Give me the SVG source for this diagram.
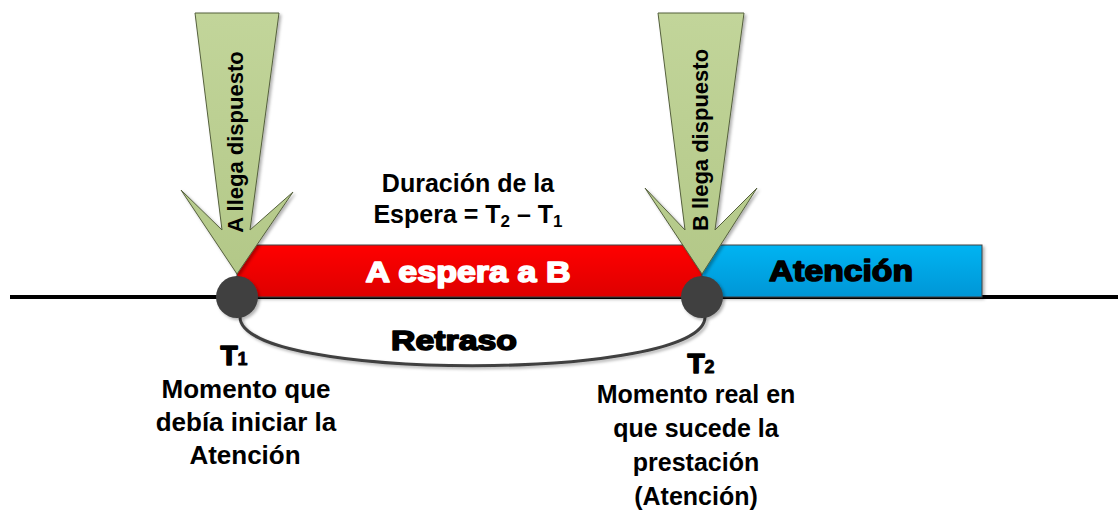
<svg xmlns="http://www.w3.org/2000/svg" width="1118" height="515" viewBox="0 0 1118 515">
<defs>
<linearGradient id="gRed" x1="0" y1="0" x2="0" y2="1"><stop offset="0" stop-color="#ff0000"/><stop offset="1" stop-color="#de0000"/></linearGradient>
<linearGradient id="gBlue" x1="0" y1="0" x2="0" y2="1"><stop offset="0" stop-color="#00b4f2"/><stop offset="1" stop-color="#0096d6"/></linearGradient>
<linearGradient id="gArrow" x1="0" y1="0" x2="0" y2="1"><stop offset="0" stop-color="#c2d59a"/><stop offset="1" stop-color="#b3c888"/></linearGradient>
<filter id="sh" x="-10%" y="-10%" width="130%" height="130%"><feDropShadow dx="2" dy="2" stdDeviation="1.5" flood-color="#000" flood-opacity="0.3"/></filter>
</defs>
<style>
.bar{stroke:#404040;stroke-width:1;filter:url(#sh)}
.arrow{fill:url(#gArrow);stroke:#55603d;stroke-width:1;filter:url(#sh)}
.dot{fill:#404040;filter:url(#sh)}
.heavy{font-family:"Liberation Sans",Arial,sans-serif;font-weight:900;stroke-width:1.6;stroke-linejoin:round}
.lbl{font-family:"Liberation Sans",Arial,sans-serif;font-weight:bold;fill:#000;text-anchor:middle}
.vert{font-family:"Liberation Sans",Arial,sans-serif;font-weight:bold;font-size:22px;fill:#000;text-anchor:middle}
</style>
<g id="connectors">
<line x1="10" y1="297" x2="1118" y2="297" stroke="#000" stroke-width="4"/>
</g>
<g id="bar-espera">
<rect class="bar" x="237" y="245" width="465" height="52" fill="url(#gRed)"/>
<text class="heavy" x="468" y="282" font-size="30" fill="#fff" stroke="#fff" text-anchor="middle" textLength="205" lengthAdjust="spacingAndGlyphs">A espera a B</text>
</g>
<g id="bar-atencion">
<rect class="bar" x="702" y="245" width="280" height="52" fill="url(#gBlue)"/>
<text class="heavy" x="841" y="281" font-size="30" fill="#000" stroke="#000" text-anchor="middle" textLength="144" lengthAdjust="spacingAndGlyphs">Atención</text>
</g>
<g id="retraso">
<path d="M240,317 C240,382 705,382 705,317" fill="none" stroke="#404040" stroke-width="3" filter="url(#sh)"/>
<text class="heavy" x="454" y="350" font-size="28" fill="#000" stroke="#000" text-anchor="middle" textLength="126" lengthAdjust="spacingAndGlyphs">Retraso</text>
</g>
<g id="t1">
<circle class="dot" cx="237" cy="297" r="21"/>
<text class="heavy" x="234" y="365" font-size="28" fill="#000" stroke="#000" text-anchor="middle">T<tspan font-size="18" stroke-width="0.8">1</tspan></text>
<text class="lbl" font-size="26" x="246" y="398">Momento que</text>
<text class="lbl" font-size="26" x="246" y="431">debía iniciar la</text>
<text class="lbl" font-size="26" x="245" y="464">Atención</text>
</g>
<g id="t2">
<circle class="dot" cx="702" cy="297" r="21"/>
<text class="heavy" x="701" y="373" font-size="28" fill="#000" stroke="#000" text-anchor="middle">T<tspan font-size="18" stroke-width="0.8">2</tspan></text>
<text class="lbl" font-size="25" x="696" y="403">Momento real en</text>
<text class="lbl" font-size="25" x="696" y="437">que sucede la</text>
<text class="lbl" font-size="25" x="696" y="471">prestación</text>
<text class="lbl" font-size="25" x="696" y="505">(Atención)</text>
</g>
<g id="duracion">
<text class="lbl" font-size="25" x="468" y="192">Duración de la</text>
<text class="lbl" font-size="25" x="468" y="223">Espera = T<tspan font-size="17" dy="4">2</tspan><tspan dy="-4"> – T</tspan><tspan font-size="17" dy="4">1</tspan></text>
</g>
<g id="arrow-a">
<polygon class="arrow" points="195,13 279,13 250,230 293,192 237,274 181,190 222,230"/>
<text class="vert" transform="translate(243,142) rotate(-90)">A llega dispuesto</text>
</g>
<g id="arrow-b">
<polygon class="arrow" points="658,13 744,13 715,230 757,188 702,274 645,188 685,230"/>
<text class="vert" transform="translate(708,140) rotate(-90)">B llega dispuesto</text>
</g>
</svg>
